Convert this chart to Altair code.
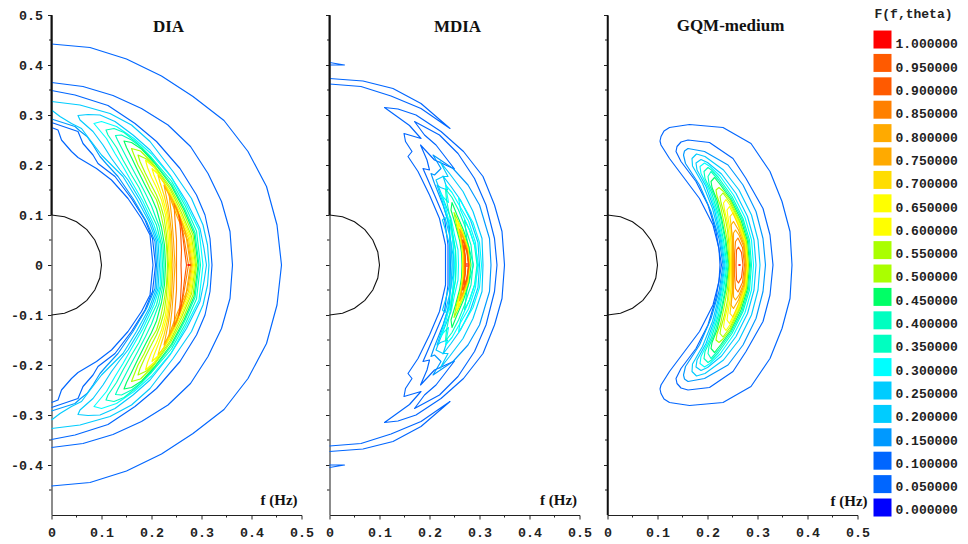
import altair as alt
import pandas as pd

LEVELS = ["1.000000","0.950000","0.900000","0.850000","0.800000","0.750000","0.700000",
          "0.650000","0.600000","0.550000","0.500000","0.450000","0.400000","0.350000",
          "0.300000","0.250000","0.200000","0.150000","0.100000","0.050000","0.000000"]
LEVEL_VALUES = [1.0,0.95,0.9,0.85,0.8,0.75,0.7,0.65,0.6,0.55,0.5,0.45,0.4,0.35,0.3,0.25,0.2,0.15,0.1,0.05,0.0]
COLORS = ["#ff0000","#ff5a00","#ff5a00","#ff8000","#ffaa00","#ffaa00","#ffdd00",
          "#ffff00","#ffff00","#aaff00","#aaff00","#00ff66","#00ffc0","#00ffc0",
          "#00ffff","#00ccff","#00ccff","#0099ff","#0066ff","#0066ff","#0000ff"]

CIRCLE = [(0,.1),(.026,.0966),(.05,.0866),(.0707,.0707),(.0866,.05),(.0966,.026),(.1,0)]
MAJOR_Y = [-.4,-.3,-.2,-.1,0,.1,.2,.3,.4,.5]
MINOR_Y = [-.45,-.35,-.25,-.15,-.05,.05,.15,.25,.35,.45]
MAJOR_X = [0,.1,.2,.3,.4,.5]
MINOR_X = [.05,.15,.25,.35,.45]

# upper half of each contour, (f, y); the lower half of the figure is its reflection
DIA = [
 ("0.050000",[(0,.442),(.077,.435),(.15,.412),(.22,.378),(.283,.337),(.345,.289),(.393,.227),(.43,.157),(.451,.08),(.46,0)]),
 ("0.050000",[(0,.365),(.063,.357),(.123,.339),(.18,.313),(.233,.28),(.278,.237),(.313,.183),(.34,.127),(.357,.067),(.362,0)]),
 ("0.100000",[(0,.349),(.047,.34),(.113,.319),(.167,.283),(.21,.247),(.257,.193),(.29,.14),(.307,.1),(.317,.053),(.321,0)]),
 ("0.200000",[(0,.327),(.057,.32),(.117,.303),(.16,.28),(.197,.247),(.243,.187),(.28,.133),(.303,.08),(.312,.04),(.315,0)]),
 ("0.100000",[(0,.275),(.013,.27),(.02,.25),(.04,.227),(.053,.215),(.09,.193),(.12,.17),(.153,.133),(.18,.093),(.197,.06),(.203,0)]),
 ("0.100000",[(0,.285),(.053,.267),(.063,.243),(.083,.22),(.093,.203),(.127,.177),(.16,.133),(.187,.09),(.202,.053),(.208,0)]),
 ("0.150000",[(0,.292),(.047,.277),(.057,.268),(.071,.257),(.083,.24),(.097,.217),(.11,.202),(.133,.177),(.163,.133),(.19,.087),(.207,.047),(.21,0)]),
 ("0.200000",[(0,.31),(.017,.297),(.04,.283),(.06,.273),(.075,.253),(.1,.22),(.123,.197),(.143,.177),(.17,.133),(.195,.087),(.21,.047),(.213,0)]),
 ("0.250000",[(.216,0),(.213,.047),(.2,.083),(.177,.13),(.153,.17),(.137,.19),(.12,.213),(.103,.24),(.083,.267),(.057,.29),(.053,.299),(.073,.301),(.097,.3),(.127,.287),(.163,.26),(.197,.23),(.237,.18),(.27,.127),(.297,.073),(.305,.033),(.31,0)]),
 ("0.300000",[(.219,0),(.217,.043),(.205,.08),(.183,.127),(.16,.167),(.143,.197),(.127,.223),(.11,.253),(.09,.277),(.085,.283),(.1,.287),(.13,.277),(.165,.253),(.2,.222),(.24,.175),(.27,.12),(.295,.07),(.303,0)]),
 ("0.350000",[(.222,0),(.22,.04),(.21,.08),(.19,.122),(.175,.155),(.16,.18),(.143,.21),(.13,.235),(.113,.26),(.109,.27),(.125,.273),(.145,.265),(.17,.245),(.2,.215),(.24,.168),(.268,.117),(.29,.068),(.298,0)]),
 ("0.400000",[(.225,0),(.223,.04),(.215,.078),(.2,.118),(.188,.143),(.173,.172),(.158,.2),(.145,.225),(.132,.25),(.128,.259),(.14,.26),(.16,.25),(.18,.235),(.205,.207),(.24,.162),(.266,.113),(.287,.065),(.295,0)]),
 ("0.450000",[(.228,0),(.226,.04),(.22,.075),(.21,.112),(.2,.135),(.186,.162),(.172,.19),(.16,.215),(.15,.235),(.145,.248),(.16,.245),(.18,.232),(.205,.205),(.24,.158),(.265,.11),(.285,.063),(.293,0)]),
 ("0.500000",[(.232,0),(.23,.04),(.225,.072),(.218,.105),(.21,.13),(.198,.15),(.185,.178),(.173,.2),(.165,.22),(.16,.233),(.178,.228),(.203,.203),(.238,.155),(.263,.107),(.283,.06),(.29,0)]),
 ("0.550000",[(.234,0),(.23,.06),(.225,.095),(.218,.12),(.21,.14),(.197,.165),(.187,.185),(.177,.207),(.173,.22),(.19,.212),(.205,.198),(.237,.152),(.26,.105),(.28,.058),(.288,0)]),
 ("0.600000",[(.236,0),(.233,.06),(.228,.1),(.22,.13),(.21,.155),(.2,.175),(.192,.195),(.188,.21),(.205,.195),(.235,.15),(.258,.103),(.278,.057),(.286,0)]),
 ("0.650000",[(.238,0),(.236,.06),(.23,.105),(.222,.135),(.213,.16),(.205,.18),(.201,.193),(.215,.18),(.235,.147),(.256,.1),(.276,.055),(.284,0)]),
 ("0.700000",[(.24,0),(.238,.06),(.232,.11),(.225,.14),(.217,.165),(.213,.18),(.225,.165),(.235,.143),(.254,.098),(.274,.053),(.282,0)]),
 ("0.750000",[(.243,0),(.24,.065),(.234,.115),(.228,.145),(.225,.16),(.235,.14),(.252,.095),(.272,.05),(.28,0)]),
 ("0.800000",[(.247,0),(.244,.05),(.241,.09),(.237,.125),(.235,.143),(.25,.115),(.268,.065),(.278,0)]),
 ("0.850000",[(.25,0),(.25,.05),(.247,.09),(.245,.123),(.253,.105),(.264,.06),(.274,0)]),
 ("0.950000",[(.259,0),(.26,.03),(.258,.07),(.255,.1),(.26,.08),(.266,.03),(.27,0)]),
 ("1.000000",[(.272,0),(.278,0)]),
]

MDIA = [
 ("0.050000",[(0,.405),(.03,.4),(0,.4)]),
 ("0.050000",[(0,.373),(.067,.368),(.127,.353),(.183,.323),(.241,.273),(.183,.313),(.123,.338),(.063,.357),(0,.362)]),
 ("0.100000",[(.35,0),(.345,.067),(.33,.12),(.307,.177),(.268,.227),(.223,.267),(.173,.3),(.137,.312),(.11,.315),(.16,.279),(.183,.253),(.149,.263),(.152,.247),(.165,.227),(.157,.217),(.177,.187),(.2,.14),(.22,.093),(.232,.04),(.232,0)]),
 ("0.100000",[(.335,0),(.33,.053),(.313,.12),(.29,.173),(.257,.223),(.22,.26),(.17,.287),(.19,.26),(.213,.24),(.25,.192),(.21,.21),(.182,.24),(.195,.21),(.2,.19),(.187,.193),(.21,.14),(.23,.093),(.237,.04),(.237,0)]),
 ("0.150000",[(.323,0),(.32,.053),(.3,.12),(.277,.16),(.247,.193),(.207,.22),(.223,.193),(.21,.18),(.203,.183),(.21,.163),(.227,.12),(.24,.08),(.242,0)]),
 ("0.200000",[(.307,0),(.305,.053),(.287,.107),(.267,.147),(.24,.183),(.221,.207),(.237,.177),(.227,.177),(.213,.17),(.227,.133),(.243,.093),(.247,.047),(.249,0)]),
 ("0.250000",[(.3,0),(.297,.045),(.282,.09),(.262,.13),(.243,.157),(.227,.178),(.236,.15),(.222,.155),(.215,.16),(.225,.13),(.236,.09),(.243,.045),(.245,0)]),
 ("0.300000",[(.296,0),(.292,.045),(.278,.088),(.258,.122),(.245,.145),(.232,.16),(.238,.125),(.228,.135),(.222,.145),(.232,.115),(.242,.075),(.248,.04),(.25,0)]),
 ("0.250000",[(.24,0),(.24,.04),(.232,.07),(.226,.09),(.231,.095),(.24,.06),(.247,.02),(.247,0)]),
 ("0.300000",[(.253,0),(.252,.03),(.246,.06),(.24,.09),(.244,.09),(.25,.06),(.257,.03),(.258,0)]),
 ("0.350000",[(.295,0),(.29,.04),(.28,.07),(.27,.09),(.275,.05),(.288,0)]),
 ("0.300000",[(.304,0),(.3,.045),(.287,.085),(.27,.115),(.258,.135),(.262,.11),(.28,.07),(.292,.035),(.298,0)]),
 ("0.400000",[(.287,0),(.283,.04),(.27,.08),(.258,.11),(.245,.135),(.232,.152),(.234,.13),(.24,.1),(.247,.06),(.252,.03),(.253,0)]),
 ("0.450000",[(.283,0),(.279,.035),(.268,.07),(.255,.1),(.245,.125),(.243,.11),(.252,.08),(.26,.05),(.264,.025),(.265,0)]),
 ("0.550000",[(.281,0),(.277,.035),(.266,.068),(.254,.095),(.249,.105),(.254,.08),(.262,.05),(.266,.025),(.266,0)]),
 ("0.600000",[(.2805,0),(.2765,.034),(.2655,.067),(.2555,.09),(.2535,.09),(.259,.065),(.265,.04),(.267,0)]),
 ("0.650000",[(.28,0),(.276,.033),(.265,.065),(.257,.085),(.258,.072),(.264,.05),(.268,.025),(.268,0)]),
 ("0.750000",[(.2795,0),(.2755,.032),(.266,.06),(.26,.072),(.262,.06),(.267,.04),(.269,.02),(.269,0)]),
 ("0.800000",[(.279,0),(.275,.03),(.267,.055),(.263,.062),(.266,.04),(.27,.02),(.27,0)]),
 ("0.900000",[(.2785,0),(.275,.028),(.268,.048),(.266,.05),(.268,.035),(.271,.018),(.271,0)]),
 ("0.950000",[(.278,0),(.275,.025),(.27,.04),(.27,.03),(.272,.015),(.272,0)]),
 ("1.000000",[(.275,.004),(.275,0)]),
]

GQM = [
 ("0.050000",[(.369,0),(.365,.067),(.349,.127),(.325,.187),(.287,.243),(.231,.275),(.164,.281),(.124,.275),(.113,.268),(.107,.257),(.105,.248),(.107,.24),(.124,.213),(.151,.177),(.184,.133),(.211,.08),(.223,.033),(.225,0)]),
 ("0.100000",[(.331,0),(.325,.06),(.311,.113),(.277,.173),(.251,.213),(.204,.245),(.161,.25),(.147,.246),(.139,.237),(.137,.227),(.147,.207),(.177,.167),(.201,.12),(.217,.067),(.228,0)]),
 ("0.150000",[(.316,0),(.311,.053),(.297,.107),(.271,.16),(.241,.2),(.194,.227),(.161,.233),(.154,.228),(.152,.22),(.156,.203),(.184,.16),(.207,.107),(.223,.053),(.231,0)]),
 ("0.200000",[(.305,0),(.301,.05),(.288,.1),(.263,.15),(.232,.19),(.195,.217),(.178,.222),(.169,.213),(.17,.198),(.19,.163),(.21,.113),(.225,.055),(.233,0)]),
 ("0.250000",[(.297,0),(.293,.05),(.28,.097),(.257,.143),(.228,.182),(.2,.205),(.187,.211),(.177,.204),(.179,.19),(.197,.157),(.214,.11),(.227,.055),(.235,0)]),
 ("0.300000",[(.292,0),(.288,.05),(.275,.095),(.252,.14),(.225,.178),(.205,.197),(.194,.204),(.185,.197),(.187,.183),(.203,.15),(.218,.105),(.229,.055),(.237,0)]),
 ("0.350000",[(.288,0),(.284,.05),(.271,.093),(.249,.137),(.222,.175),(.208,.19),(.201,.195),(.193,.187),(.195,.173),(.208,.145),(.222,.1),(.232,.05),(.239,0)]),
 ("0.400000",[(.286,0),(.282,.048),(.269,.092),(.247,.135),(.222,.17),(.207,.187),(.201,.177),(.203,.163),(.214,.137),(.226,.095),(.235,.05),(.241,0)]),
 ("0.450000",[(.284,0),(.28,.047),(.267,.09),(.246,.132),(.226,.16),(.214,.175),(.207,.167),(.209,.155),(.219,.13),(.229,.09),(.237,.048),(.243,0)]),
 ("0.500000",[(.282,0),(.278,.047),(.265,.088),(.245,.13),(.231,.148),(.223,.155),(.217,.15),(.219,.138),(.226,.118),(.233,.085),(.24,.047),(.244,0)]),
 ("0.550000",[(.281,0),(.277,.046),(.264,.086),(.245,.125),(.231,.144),(.225,.137),(.227,.125),(.234,.1),(.24,.07),(.243,.04),(.245,0)]),
 ("0.600000",[(.28,0),(.276,.045),(.263,.084),(.246,.118),(.237,.131),(.232,.124),(.234,.11),(.24,.085),(.244,.05),(.246,0)]),
 ("0.650000",[(.279,0),(.275,.044),(.262,.082),(.25,.105),(.244,.117),(.239,.11),(.241,.095),(.245,.07),(.247,.04),(.247,0)]),
 ("0.700000",[(.278,0),(.274,.043),(.262,.078),(.251,.104),(.245,.097),(.247,.08),(.249,.05),(.248,0)]),
 ("0.750000",[(.277,0),(.273,.04),(.262,.07),(.252,.087),(.247,.08),(.25,.055),(.25,0)]),
 ("0.800000",[(.276,0),(.272,.038),(.263,.06),(.256,.07),(.252,.064),(.252,.035),(.252,0)]),
 ("0.850000",[(.274,0),(.27,.035),(.261,.054),(.256,.047),(.254,.02),(.254,0)]),
 ("0.950000",[(.271,0),(.268,.025),(.262,.036),(.258,.03),(.257,0)]),
 ("1.000000",[(.262,0),(.266,0)]),
]


def contour_table(contours):
    rows = []
    for i, (lev, pts) in enumerate(contours):
        for j, (f, y) in enumerate(pts):
            rows.append({"id": f"{i}u", "ord": j, "f": f, "y": y, "lev": lev})
            rows.append({"id": f"{i}l", "ord": j, "f": f, "y": -y, "lev": lev})
    return pd.DataFrame(rows)


def panel(contours, title, title_x, title_y, unit_x, unit_y, heavy_top):
    xs = alt.Scale(domain=[0, .5], nice=False)
    ys = alt.Scale(domain=[-.5, .5], nice=False)
    show_labels = title == "DIA"
    x_axis = alt.Axis(values=MAJOR_X, tickSize=4, tickColor="#222", domainColor="#222", domainWidth=1,
                      labelFont="Liberation Mono", labelFontWeight="bold", labelFontSize=13.3,
                      labelColor="#222", labelPadding=6.5, labelFlush=False, labelAngle=0, grid=False,
                      labelOverlap=False, title=None,
                      labelExpr="datum.value == 0 ? '0' : format(datum.value, '.1f')")
    y_axis = alt.Axis(values=MAJOR_Y, tickSize=4, tickColor="#222", domainColor="#666" if heavy_top else "#222",
                      domainWidth=1.5, labels=show_labels,
                      labelFont="Liberation Mono", labelFontWeight="bold", labelFontSize=13.3,
                      labelColor="#222", labelPadding=5, labelFlush=False, grid=False, labelOverlap=False, title=None,
                      labelExpr="datum.value == 0 ? '0' : replace(format(datum.value, '.1f'), '\u2212', '-')")
    X = alt.X("f:Q", scale=xs, axis=x_axis)
    Y = alt.Y("y:Q", scale=ys, axis=y_axis)

    circle_rows = []
    for j, (f, y) in enumerate(CIRCLE):
        circle_rows.append({"id": "u", "ord": j, "f": f, "y": y})
        circle_rows.append({"id": "l", "ord": j, "f": f, "y": -y})

    base = alt.Chart(pd.DataFrame(circle_rows)).mark_line(color="#111", strokeWidth=1.1).encode(
        x=X, y=Y, detail="id:N", order="ord:Q")
    lines = alt.Chart(contour_table(contours)).mark_line(strokeWidth=1.15, strokeJoin="round").encode(
        x=X, y=Y, detail="id:N", order="ord:Q",
        color=alt.Color("lev:N", scale=alt.Scale(domain=LEVELS, range=COLORS), legend=None))
    minor_y = alt.Chart(pd.DataFrame({"y": MINOR_Y})).mark_rule(color="#222").encode(
        y=Y, x=alt.value(-2.5), x2=alt.value(0))
    minor_x = alt.Chart(pd.DataFrame({"f": MINOR_X})).mark_rule(color="#222").encode(
        x=X, y=alt.value(500), y2=alt.value(502.5))
    heavy = alt.Chart(pd.DataFrame({"y": [.1 if heavy_top else -.5], "y2": [.5]})).mark_rule(
        color="#111", strokeWidth=2 if heavy_top else 1.5).encode(
        x=alt.value(0), y=Y, y2="y2:Q")
    ttl = alt.Chart(pd.DataFrame({"t": [title]})).mark_text(
        font="Liberation Serif", fontWeight="bold", fontSize=17, color="#111").encode(
        text="t:N", x=alt.value(title_x), y=alt.value(title_y))
    unit = alt.Chart(pd.DataFrame({"t": ["f (Hz)"]})).mark_text(
        font="Liberation Serif", fontWeight="bold", fontSize=15, color="#111").encode(
        text="t:N", x=alt.value(unit_x), y=alt.value(unit_y))
    return alt.layer(base, lines, minor_y, minor_x, heavy, ttl, unit).properties(width=250, height=500)


p1 = panel(DIA, "DIA", 117, 11.5, 227.5, 484.5, True)
p2 = panel(MDIA, "MDIA", 128, 11.5, 229, 484.5, True)
p3 = panel(GQM, "GQM-medium", 123, 10.5, 241.5, 485.5, False)

legend_df = pd.DataFrame({"lev": LEVELS, "v": LEVEL_VALUES})
sq = alt.Chart(legend_df).mark_square(size=324, opacity=1).encode(
    x=alt.value(-3),
    y=alt.Y("v:Q", scale=alt.Scale(domain=[-.016, 1.0524], nice=False), axis=None),
    color=alt.Color("lev:N", scale=alt.Scale(domain=LEVELS, range=COLORS), legend=None))
lab = alt.Chart(legend_df).mark_text(
    font="Liberation Mono", fontWeight="bold", fontSize=13, align="left", color="#222").encode(
    x=alt.value(10),
    y=alt.Y("v:Q", scale=alt.Scale(domain=[-.00966, 1.0633], nice=False), axis=None),
    text="lev:N")
leg_title = alt.Chart(pd.DataFrame({"t": ["F(f,theta)"]})).mark_text(
    font="Liberation Mono", fontWeight="bold", fontSize=13, align="left", color="#222").encode(
    text="t:N", x=alt.value(-11), y=alt.value(-1))
p4 = alt.layer(sq, lab, leg_title).resolve_scale(y="independent").properties(width=70, height=500)

chart = alt.hconcat(p1, p2, p3, p4, spacing=28, bounds="flush").configure_view(stroke=None).properties(
    padding={"left": 2.5, "top": 0, "right": 0, "bottom": 1}, background="white")

chart.save("out.html", embed_options={"renderer": "svg", "actions": False})
